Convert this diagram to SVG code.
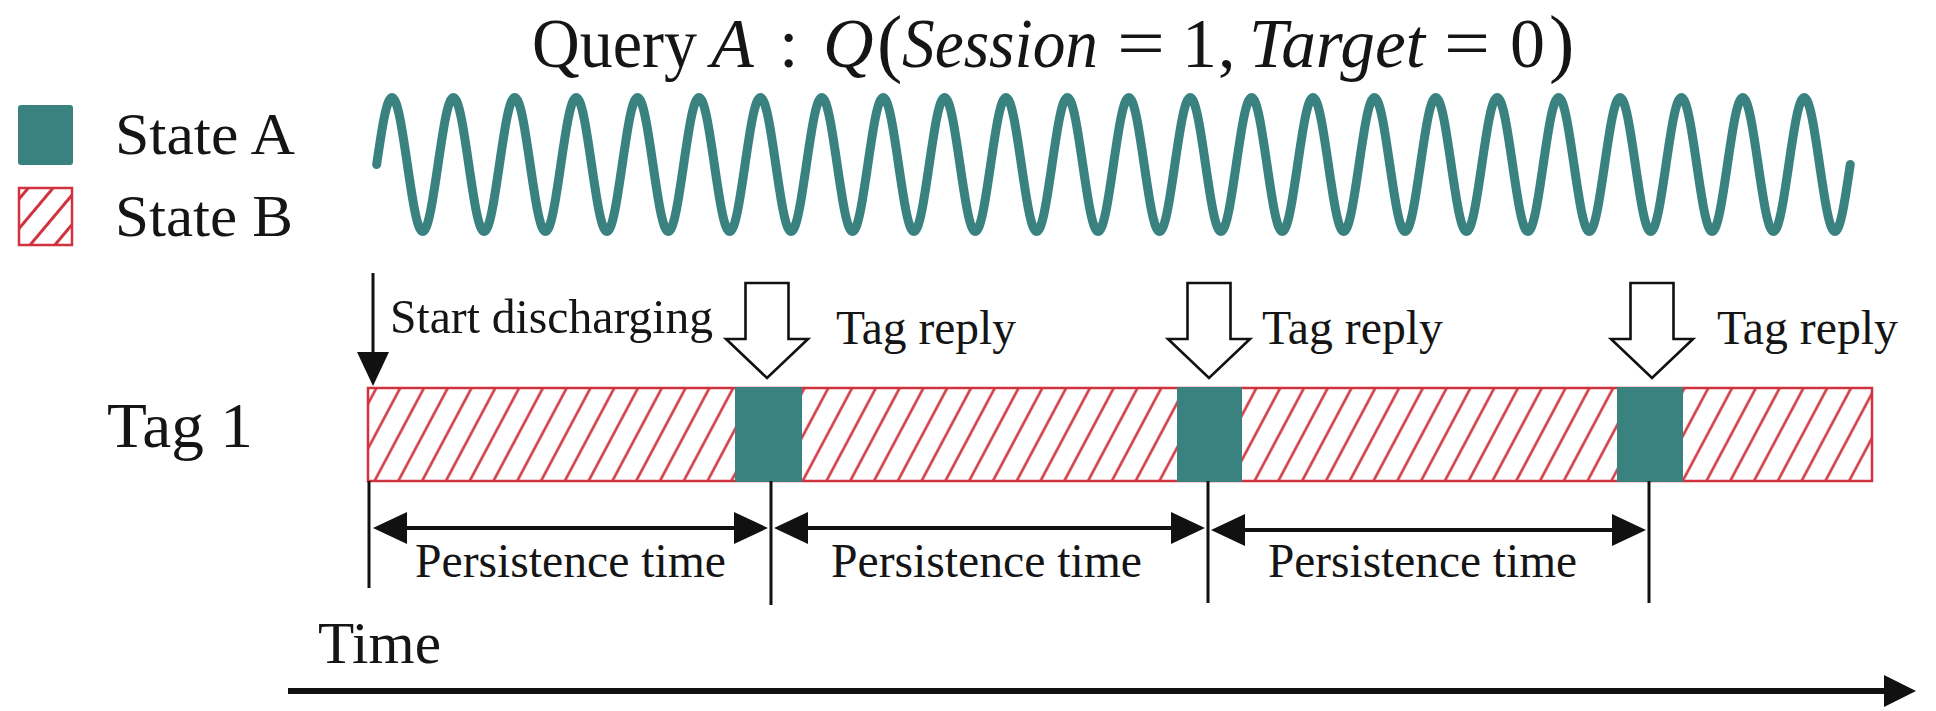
<svg xmlns="http://www.w3.org/2000/svg" width="1936" height="711" viewBox="0 0 1936 711">
<style>
text{font-family:"Liberation Serif","Times New Roman",serif;fill:#151515}
.it{font-style:italic}
.teal{fill:#3a8280}
.red{stroke:#d0333d;stroke-width:2.5}
.hollow{fill:#fff;stroke:#111;stroke-width:2.6;stroke-linejoin:miter}
</style>
<defs>
<pattern id="hatch" patternUnits="userSpaceOnUse" width="21" height="21" patternTransform="rotate(28)">
<line x1="10.5" y1="-2" x2="10.5" y2="23" stroke="#d0333d" stroke-width="2.5"/>
</pattern>
<pattern id="hatchL" patternUnits="userSpaceOnUse" width="19" height="19" patternTransform="rotate(40)">
<line x1="9.5" y1="-2" x2="9.5" y2="21" stroke="#d0333d" stroke-width="3"/>
</pattern>
<marker id="tri" viewBox="0 0 34 32" refX="26" refY="16" markerWidth="34" markerHeight="32" markerUnits="userSpaceOnUse" orient="auto-start-reverse">
<path d="M0,0 L34,16 L0,32 Z" fill="#111"/>
</marker>
<path id="hollowArrow" class="hollow" d="M-21.5,283 L21.5,283 L21.5,339 L41,339 L0,378 L-41,339 L-21.5,339 Z"/>
</defs>

<g id="title" font-size="70">
<text x="532" y="67" textLength="165" lengthAdjust="spacingAndGlyphs">Query</text>
<text class="it" x="711" y="67">A</text>
<text x="779" y="67">:</text>
<text class="it" x="823" y="67">Q</text>
<text x="877" y="68" font-size="76">(</text>
<text class="it" x="902" y="67" textLength="196" lengthAdjust="spacingAndGlyphs">Session</text>
<text x="1117" y="67" textLength="48" lengthAdjust="spacingAndGlyphs">=</text>
<text x="1182" y="67">1</text>
<text x="1218" y="67">,</text>
<text class="it" x="1249" y="67" textLength="176" lengthAdjust="spacingAndGlyphs">Target</text>
<text x="1444" y="67" textLength="46" lengthAdjust="spacingAndGlyphs">=</text>
<text x="1510" y="67">0</text>
<text x="1549" y="68" font-size="76">)</text>
</g>

<g id="legend">
<g id="legend-a">
<rect x="18" y="105" width="55" height="60" rx="3" class="teal"/>
<text x="115" y="154" font-size="60" textLength="180" lengthAdjust="spacingAndGlyphs">State A</text>
</g>
<g id="legend-b">
<rect x="19" y="188" width="53" height="57" fill="url(#hatchL)" class="red"/>
<text x="115" y="236" font-size="60" textLength="178" lengthAdjust="spacingAndGlyphs">State B</text>
</g>
</g>

<g id="wave">
<path fill="none" stroke="#3a8280" stroke-width="9" stroke-linecap="round" d="M376.65 164.5 c5.006,-34.32 9.795,-67 15.35,-67
s10.344,32.68 15.35,67 s9.795,67 15.35,67 s10.344,-32.68 15.35,-67 s9.795,-67 15.35,-67
s10.344,32.68 15.35,67 s9.795,67 15.35,67 s10.344,-32.68 15.35,-67 s9.795,-67 15.35,-67
s10.344,32.68 15.35,67 s9.795,67 15.35,67 s10.344,-32.68 15.35,-67 s9.795,-67 15.35,-67
s10.344,32.68 15.35,67 s9.795,67 15.35,67 s10.344,-32.68 15.35,-67 s9.795,-67 15.35,-67
s10.344,32.68 15.35,67 s9.795,67 15.35,67 s10.344,-32.68 15.35,-67 s9.795,-67 15.35,-67
s10.344,32.68 15.35,67 s9.795,67 15.35,67 s10.344,-32.68 15.35,-67 s9.795,-67 15.35,-67
s10.344,32.68 15.35,67 s9.795,67 15.35,67 s10.344,-32.68 15.35,-67 s9.795,-67 15.35,-67
s10.344,32.68 15.35,67 s9.795,67 15.35,67 s10.344,-32.68 15.35,-67 s9.795,-67 15.35,-67
s10.344,32.68 15.35,67 s9.795,67 15.35,67 s10.344,-32.68 15.35,-67 s9.795,-67 15.35,-67
s10.344,32.68 15.35,67 s9.795,67 15.35,67 s10.344,-32.68 15.35,-67 s9.795,-67 15.35,-67
s10.344,32.68 15.35,67 s9.795,67 15.35,67 s10.344,-32.68 15.35,-67 s9.795,-67 15.35,-67
s10.344,32.68 15.35,67 s9.795,67 15.35,67 s10.344,-32.68 15.35,-67 s9.795,-67 15.35,-67
s10.344,32.68 15.35,67 s9.795,67 15.35,67 s10.344,-32.68 15.35,-67 s9.795,-67 15.35,-67
s10.344,32.68 15.35,67 s9.795,67 15.35,67 s10.344,-32.68 15.35,-67 s9.795,-67 15.35,-67
s10.344,32.68 15.35,67 s9.795,67 15.35,67 s10.344,-32.68 15.35,-67 s9.795,-67 15.35,-67
s10.344,32.68 15.35,67 s9.795,67 15.35,67 s10.344,-32.68 15.35,-67 s9.795,-67 15.35,-67
s10.344,32.68 15.35,67 s9.795,67 15.35,67 s10.344,-32.68 15.35,-67 s9.795,-67 15.35,-67
s10.344,32.68 15.35,67 s9.795,67 15.35,67 s10.344,-32.68 15.35,-67 s9.795,-67 15.35,-67
s10.344,32.68 15.35,67 s9.795,67 15.35,67 s10.344,-32.68 15.35,-67 s9.795,-67 15.35,-67
s10.344,32.68 15.35,67 s9.795,67 15.35,67 s10.344,-32.68 15.35,-67 s9.795,-67 15.35,-67
s10.344,32.68 15.35,67 s9.795,67 15.35,67 s10.344,-32.68 15.35,-67 s9.795,-67 15.35,-67
s10.344,32.68 15.35,67 s9.795,67 15.35,67 s10.344,-32.68 15.35,-67 s9.795,-67 15.35,-67
s10.344,32.68 15.35,67 s9.795,67 15.35,67 s10.344,-32.68 15.35,-67 s9.795,-67 15.35,-67
s10.344,32.68 15.35,67 s9.795,67 15.35,67 s10.344,-32.68 15.35,-67"/>
</g>

<g id="tag1">
<text x="107" y="447" font-size="64" textLength="146" lengthAdjust="spacingAndGlyphs">Tag 1</text>
<rect id="tag1-bar" x="368" y="388" width="1504" height="93" fill="url(#hatch)" class="red"/>
<rect id="reply1" x="735" y="387" width="67" height="95" class="teal"/>
<rect id="reply2" x="1177" y="387" width="65" height="95" class="teal"/>
<rect id="reply3" x="1617" y="387" width="66" height="95" class="teal"/>
</g>

<g id="start-discharging">
<line x1="373" y1="273" x2="373" y2="356" stroke="#111" stroke-width="3"/>
<path d="M357,352 L389,352 L373,386 Z" fill="#111"/>
<text x="390" y="333" font-size="49" textLength="323" lengthAdjust="spacingAndGlyphs">Start discharging</text>
</g>

<g id="tag-replies">
<use href="#hollowArrow" x="767"/>
<use href="#hollowArrow" x="1209"/>
<use href="#hollowArrow" x="1652"/>
<text x="836" y="344" font-size="48" textLength="180" lengthAdjust="spacingAndGlyphs">Tag reply</text>
<text x="1262" y="344" font-size="48" textLength="181" lengthAdjust="spacingAndGlyphs">Tag reply</text>
<text x="1717" y="344" font-size="48" textLength="181" lengthAdjust="spacingAndGlyphs">Tag reply</text>
</g>

<g id="connectors" stroke="#111">
<line x1="369" y1="481" x2="369" y2="588" stroke-width="3"/>
<line x1="771" y1="481" x2="771" y2="605" stroke-width="3"/>
<line x1="1208" y1="481" x2="1208" y2="603" stroke-width="3"/>
<line x1="1649" y1="481" x2="1649" y2="603" stroke-width="3"/>
<line x1="381" y1="528" x2="760" y2="528" stroke-width="4" marker-start="url(#tri)" marker-end="url(#tri)"/>
<line x1="782" y1="528" x2="1197" y2="528" stroke-width="4" marker-start="url(#tri)" marker-end="url(#tri)"/>
<line x1="1219" y1="530" x2="1638" y2="530" stroke-width="4" marker-start="url(#tri)" marker-end="url(#tri)"/>
<line x1="288" y1="691" x2="1890" y2="691" stroke-width="6"/>
<path d="M1884,675 L1916,691 L1884,707 Z" fill="#111" stroke="none"/>
</g>

<g id="persistence-labels" font-size="48">
<text x="415" y="577" textLength="311" lengthAdjust="spacingAndGlyphs">Persistence time</text>
<text x="831" y="577" textLength="311" lengthAdjust="spacingAndGlyphs">Persistence time</text>
<text x="1268" y="577" textLength="309" lengthAdjust="spacingAndGlyphs">Persistence time</text>
</g>

<g id="time-axis">
<text x="318" y="663" font-size="60" textLength="123" lengthAdjust="spacingAndGlyphs">Time</text>
</g>
</svg>
